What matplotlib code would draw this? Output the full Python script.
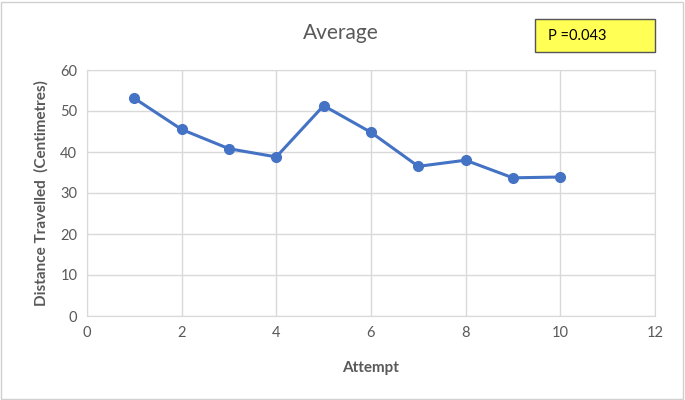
import matplotlib.pyplot as plt
from matplotlib.patches import Rectangle

plt.rcParams['font.family'] = ['Lato', 'DejaVu Sans']

attempts = [1, 2, 3, 4, 5, 6, 7, 8, 9, 10]
distance = [53.1, 45.5, 40.8, 38.8, 51.3, 44.8, 36.5, 38.0, 33.7, 33.9]
x_ticks = [0, 2, 4, 6, 8, 10, 12]
y_ticks = [0, 10, 20, 30, 40, 50, 60]

fig = plt.figure(figsize=(6.85, 4.0), dpi=100)
fig.patches.append(Rectangle((0.002, 0.003), 0.995, 0.993, transform=fig.transFigure,
                             fill=False, edgecolor='#d0d0d0', linewidth=1))
ax = fig.add_axes([0.127, 0.21, 0.829, 0.615])

ax.plot(attempts, distance, color='#4472c4', linewidth=2.2, marker='o', markersize=7)

ax.set_xlim(0, 12)
ax.set_ylim(0, 60)
ax.set_xticks(x_ticks)
ax.set_yticks(y_ticks)
ax.grid(True, color='#d9d9d9', linewidth=1)
ax.set_axisbelow(True)
for s in ax.spines.values():
    s.set_color('#d9d9d9')
ax.tick_params(length=0, labelsize=10.5, labelcolor='#595959', pad=7)

ax.set_xlabel('Attempt', fontsize=11, fontweight='bold', color='#595959', labelpad=15)
ax.set_ylabel('Distance Travelled  (Centimetres)', fontsize=11, fontweight='bold',
              color='#595959', labelpad=8)

fig.text(0.498, 0.918, 'Average', ha='center', va='center', fontsize=15, color='#595959')

fig.patches.append(Rectangle((535 / 685, 1 - 52 / 400), 120 / 685, 33 / 400,
                             transform=fig.transFigure, facecolor='#ffff55',
                             edgecolor='#555555', linewidth=1))
fig.text(548 / 685, 1 - 36 / 400, 'P =0.043', ha='left', va='center', fontsize=10.5, color='black')

fig.savefig('out.png', dpi=100)
